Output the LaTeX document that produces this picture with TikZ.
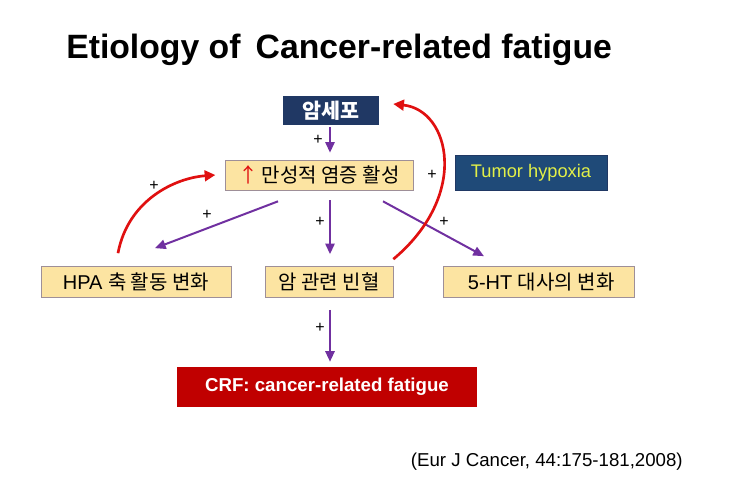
\documentclass[tikz,border=0pt]{standalone}
\usepackage{fontspec}
\setmainfont{Liberation Sans}
\newfontfamily\kofont{Noto Sans CJK KR}
\definecolor{ENavy}{HTML}{203864}
\definecolor{EBlue}{HTML}{1F4A78}
\definecolor{EYellow}{HTML}{FCE4A2}
\definecolor{EEdge}{HTML}{9E8F98}
\definecolor{ELime}{HTML}{E2F048}
\definecolor{EPurple}{HTML}{7030A0}
\definecolor{ERed}{HTML}{E01010}
\definecolor{EBrick}{HTML}{C00000}
\usetikzlibrary{arrows.meta}
\newcommand{\ko}[1]{{\kofont #1}}

\begin{document}
\begin{tikzpicture}[x=0.75pt,y=-0.75pt,
    every node/.style={font=\fontsize{15}{17}\selectfont},
    ybox/.style={rectangle,fill=EYellow,draw=EEdge,line width=0.5pt,inner sep=0pt,minimum height=23.25pt},
    nbox/.style={rectangle,fill=ENavy,inner sep=0pt,text=white},
    plus/.style={font=\fontsize{12}{13}\selectfont},
    parrow/.style={draw=EPurple,line width=1.5pt,-{Triangle[length=8pt,width=7pt]}},
    rarrow/.style={draw=ERed,line width=2pt,-{Triangle[length=8pt,width=8pt]}}]
  \useasboundingbox (0,0) rectangle (743,490);

  \node[anchor=base west,inner sep=0pt,font=\fontsize{25.3}{29}\bfseries] (title) at (66,58)
    {Etiology of\hspace{0.45em}Cancer-related fatigue};

  \node[nbox,minimum width=72pt,minimum height=21.75pt,font=\fontsize{15.5}{17}\selectfont] (cell) at (331,110.5)
    {\ko{\bfseries 암세포}};
  \node[ybox,minimum width=141pt,minimum height=22.5pt] (infl) at (319,175)
    {{\color{ERed}\kofont ↑}\,\ko{만성적 염증 활성}};
  \node[rectangle,fill=EBlue,draw=ENavy,minimum width=114pt,minimum height=26.25pt,
        text=ELime,inner sep=0pt,font=\fontsize{13.7}{15}\selectfont] (hypox) at (531,172.5) {Tumor hypoxia};

  \node[ybox,minimum width=142.5pt] (hpa) at (136,282) {HPA \ko{축 활동 변화}};
  \node[ybox,minimum width=96pt] (anem) at (329,282) {\ko{암 관련 빈혈}};
  \node[ybox,minimum width=143.25pt] (sero) at (538.5,282) {\hspace{4pt}5-HT \ko{대사의 변화}};

  \node[rectangle,fill=EBrick,minimum width=225pt,minimum height=30pt,inner sep=0pt,
        text=white,font=\fontsize{14}{16}\bfseries] (crf) at (327,387)
    {CRF: cancer-related fatigue};

  \node[anchor=base east,inner sep=0pt,font=\fontsize{14}{16}\selectfont] (cite) at (683,466)
    {(Eur J Cancer, 44:175-181,2008)};

  % purple arrows
  \draw[parrow] ([xshift=-0.75pt,yshift=-1.5pt]cell.south) -- ([xshift=8.25pt,yshift=5.25pt]infl.north);
  \draw[parrow] ([xshift=-30.75pt,yshift=-8.25pt]infl.south) -- ([xshift=14.25pt,yshift=13.5pt]hpa.north);
  \draw[parrow] ([xshift=8.25pt,yshift=-7.5pt]infl.south) -- ([xshift=0.75pt,yshift=9pt]anem.north);
  \draw[parrow] ([xshift=48pt,yshift=-8.25pt]infl.south) -- ([xshift=-40.9pt,yshift=7.5pt]sero.north);
  \draw[parrow] ([xshift=0.75pt,yshift=-9pt]anem.south) -- ([xshift=2.25pt,yshift=3.75pt]crf.north);

  % red feedback curves
  \draw[rarrow] ([xshift=-13.5pt,yshift=9.75pt]hpa.north) .. controls (128,200) and (175,178) .. ([xshift=-7pt]infl.west);
  \draw[rarrow] ([yshift=5.25pt]anem.north east) .. controls (470,195) and (450,110) .. ([xshift=10.5pt,yshift=4.9pt]cell.east);

  \node[plus] (p1) at (318,140) {+};
  \node[plus] (p2) at (432,175) {+};
  \node[plus] (p3) at (154,186) {+};
  \node[plus] (p4) at (207,215) {+};
  \node[plus] (p5) at (320,222) {+};
  \node[plus] (p6) at (444,222) {+};
  \node[plus] (p7) at (320,328) {+};
\end{tikzpicture}
\end{document}
